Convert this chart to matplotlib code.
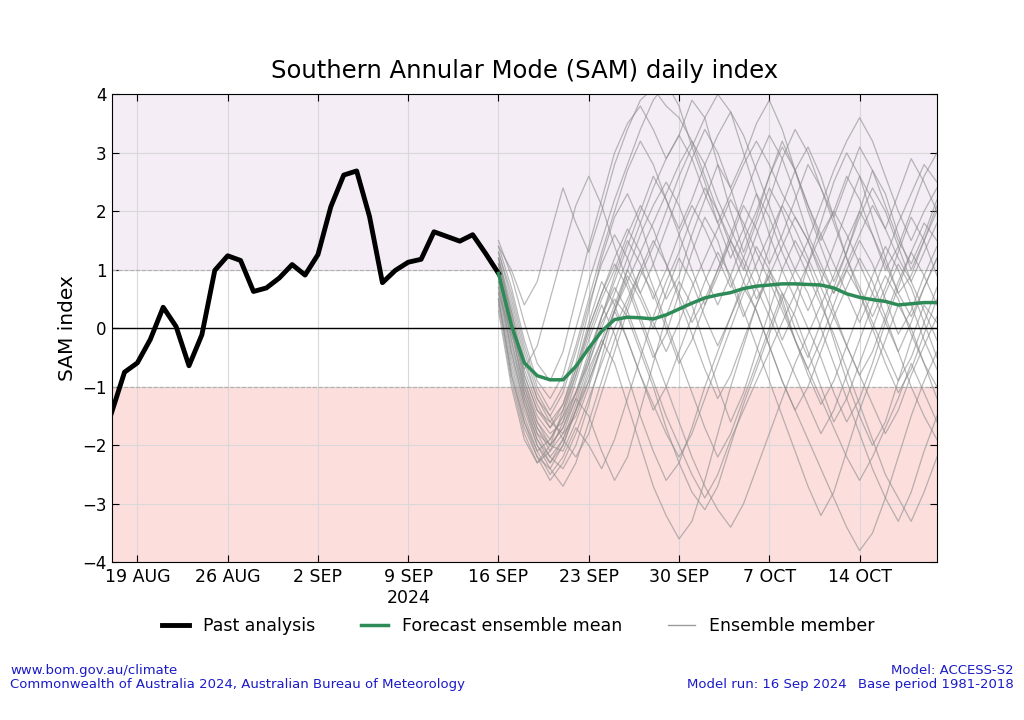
import matplotlib as mpl
mpl.use('Agg')
import matplotlib.pyplot as plt
from matplotlib.lines import Line2D
import pandas as pd
import numpy as np

################## DATA ##################
past_dates = pd.date_range('2024-08-17', '2024-09-16', freq='D')
past_sam = [-1.44, -0.75, -0.59, -0.19, 0.36, 0.03, -0.64, -0.11, 0.99, 1.24,
            1.16, 0.63, 0.69, 0.86, 1.09, 0.91, 1.26, 2.08, 2.62, 2.69,
            1.91, 0.78, 0.99, 1.13, 1.18, 1.65, 1.57, 1.49, 1.60, 1.28, 0.94]

fcst_dates = pd.date_range('2024-09-16', '2024-10-20', freq='D')
ens_mean = [0.94, 0.05, -0.59, -0.81, -0.88, -0.88, -0.65, -0.34, -0.05, 0.15,
            0.19, 0.18, 0.16, 0.23, 0.33, 0.43, 0.52, 0.57, 0.61, 0.68,
            0.72, 0.74, 0.76, 0.76, 0.75, 0.74, 0.69, 0.59, 0.53, 0.49,
            0.46, 0.40, 0.42, 0.44, 0.44]

#ensemble members (rough reading of a subset of the spaghetti)
members = [
    [1.2, 0.2, -0.8, -1.4, -1.6, -1.3, -0.6, 0.3, 1.2, 1.9, 2.3, 1.8, 1.1, 0.5, 0.9, 1.6, 2.2, 2.8, 2.4, 1.7, 1.0, 0.4, -0.2, 0.3, 1.1, 1.8, 2.5, 3.0, 2.6, 1.9, 1.2, 0.6, 0.9, 1.5, 2.0],
    [0.8, -0.3, -1.2, -1.8, -2.0, -1.7, -1.2, -1.5, -2.1, -2.6, -2.2, -1.4, -0.6, 0.2, 0.8, 0.4, -0.3, -1.0, -1.6, -1.1, -0.4, 0.3, 1.0, 1.5, 1.1, 0.5, -0.2, -0.9, -1.5, -2.0, -1.6, -0.9, -0.2, 0.4, 0.1],
    [1.5, 0.9, 0.1, -0.6, -0.9, -0.4, 0.5, 1.4, 2.2, 3.0, 3.5, 3.8, 3.4, 2.9, 3.3, 3.9, 3.6, 2.8, 2.0, 1.3, 1.9, 2.6, 3.2, 2.7, 2.0, 1.4, 0.8, 1.3, 2.0, 2.7, 2.3, 1.6, 1.0, 1.5, 2.1],
    [0.5, -0.8, -1.7, -2.2, -2.4, -2.0, -1.4, -0.7, -0.2, -0.6, -1.3, -2.0, -2.7, -3.2, -3.6, -3.3, -2.6, -1.8, -1.0, -0.3, 0.4, 0.9, 0.5, -0.2, -0.8, -1.3, -0.9, -0.3, 0.3, 0.9, 1.4, 1.0, 0.4, -0.2, -0.7],
    [1.0, 0.0, -1.0, -1.6, -1.9, -1.5, -0.8, 0.0, 0.6, 1.1, 0.7, 0.1, -0.5, -0.1, 0.6, 1.3, 1.9, 1.5, 0.8, 0.2, 0.7, 1.4, 2.1, 2.7, 3.1, 2.6, 1.9, 1.2, 0.6, 0.0, -0.6, -1.1, -0.7, -0.1, 0.5],
    [1.3, 0.5, -0.4, -1.1, -1.5, -1.9, -2.2, -1.8, -1.1, -0.4, 0.3, 0.9, 1.4, 2.0, 2.6, 3.1, 3.6, 4.0, 3.7, 3.0, 2.3, 1.6, 1.0, 0.5, 0.0, -0.5, -1.1, -1.6, -1.2, -0.6, 0.1, 0.7, 1.3, 1.8, 1.5],
    [0.7, -0.5, -1.4, -2.0, -2.3, -1.9, -1.3, -0.6, 0.1, 0.5, 0.2, -0.4, -1.0, -1.7, -2.3, -2.8, -3.1, -2.7, -2.0, -1.3, -0.7, -0.1, 0.5, 1.0, 0.6, 0.0, -0.6, -1.2, -1.8, -2.4, -2.9, -3.3, -2.8, -2.1, -1.5],
    [1.1, 0.3, -0.7, -1.3, -1.7, -1.4, -0.8, -0.1, 0.5, 1.0, 1.6, 2.1, 1.7, 1.1, 0.6, 0.1, 0.5, 1.0, 1.6, 2.2, 2.8, 3.3, 2.9, 2.3, 1.6, 1.1, 0.6, 1.0, 1.5, 1.1, 0.5, -0.1, 0.3, 0.9, 1.4],
    [0.4, -0.9, -1.8, -2.3, -2.1, -1.6, -0.9, -0.2, 0.4, -0.1, -0.8, -1.5, -2.1, -2.6, -2.3, -1.7, -1.0, -0.4, 0.2, 0.7, 0.3, -0.3, -0.9, -1.4, -1.9, -2.4, -2.9, -3.4, -3.8, -3.5, -2.9, -2.2, -1.5, -0.9, -0.4],
    [1.4, 0.7, -0.2, -0.9, -1.2, -0.8, 0.0, 0.8, 1.5, 2.2, 2.8, 3.4, 3.9, 4.2, 3.8, 3.1, 2.5, 1.8, 1.2, 1.7, 2.3, 1.9, 1.3, 0.8, 0.3, 0.8, 1.4, 2.0, 2.6, 2.2, 1.7, 2.3, 2.9, 2.5, 2.0],
    [0.9, -0.2, -1.1, -1.7, -2.0, -2.1, -1.6, -1.0, -0.3, 0.3, 0.9, 0.5, 0.0, 0.6, 1.2, 0.8, 0.2, -0.3, 0.2, 0.8, 1.4, 1.0, 0.4, -0.2, -0.7, -0.2, 0.4, 1.0, 0.6, 0.1, -0.4, -0.9, -0.5, 0.1, 0.7],
    [0.6, -0.6, -1.5, -2.1, -2.5, -2.2, -1.7, -2.0, -2.4, -1.9, -1.2, -0.5, 0.2, 0.8, 1.3, 1.9, 2.4, 2.0, 1.4, 0.8, 0.3, -0.3, -0.9, -1.4, -1.0, -0.4, 0.2, 0.7, 1.2, 0.8, 0.2, -0.4, -1.0, -1.5, -1.9],
    [1.2, 0.4, -0.5, -1.2, -1.5, -1.1, -0.4, 0.4, 1.1, 1.6, 1.2, 0.6, 1.1, 1.7, 2.3, 2.9, 3.4, 3.0, 2.4, 2.9, 3.5, 3.9, 3.4, 2.7, 2.1, 1.5, 2.0, 2.6, 2.2, 1.6, 1.0, 1.4, 2.0, 2.6, 3.0],
    [0.3, -1.0, -1.9, -2.3, -2.0, -1.4, -0.7, 0.0, 0.6, 1.2, 1.7, 1.3, 0.7, 0.1, -0.5, -1.1, -1.7, -2.2, -1.8, -1.2, -0.6, 0.0, 0.6, 0.2, -0.4, -1.0, -1.6, -1.2, -0.6, 0.0, 0.6, 1.1, 0.7, 0.1, -0.5],
    [1.0, 0.1, -0.9, -1.5, -1.8, -1.6, -1.1, -0.5, 0.2, 0.8, 1.4, 2.0, 2.6, 2.2, 1.6, 1.0, 0.4, 0.9, 1.5, 2.1, 1.7, 1.1, 1.6, 2.2, 2.8, 2.4, 1.8, 1.2, 0.7, 0.2, 0.7, 1.3, 1.9, 1.5, 0.9],
    [0.8, -0.4, -1.3, -1.9, -2.2, -1.9, -1.4, -0.9, -0.3, 0.3, -0.2, -0.8, -1.4, -1.0, -0.4, 0.2, 0.8, 1.3, 0.9, 0.3, -0.3, -0.9, -1.5, -2.1, -2.7, -3.2, -2.8, -2.1, -1.4, -0.8, -0.2, 0.4, 0.0, -0.6, -1.2],
    [1.3, 0.6, -0.3, -1.0, -1.4, -1.0, -0.3, 0.5, 1.3, 2.0, 2.7, 3.2, 2.8, 2.2, 1.7, 2.2, 2.8, 3.3, 3.7, 3.3, 2.7, 2.1, 1.5, 1.0, 1.5, 2.1, 2.7, 3.2, 3.6, 3.2, 2.6, 2.0, 1.5, 2.0, 2.4],
    [0.5, -0.7, -1.6, -2.2, -2.6, -2.3, -1.8, -1.2, -0.6, 0.0, 0.5, 1.0, 0.6, 0.0, -0.6, -0.2, 0.4, 1.0, 1.5, 1.1, 0.5, 0.9, 1.4, 1.9, 1.5, 0.9, 0.3, -0.3, -0.8, -0.4, 0.2, 0.8, 1.3, 0.9, 0.4],
    [1.1, 0.2, -0.8, -1.4, -1.7, -1.3, -0.7, 0.1, 0.8, 0.4, -0.2, -0.8, -1.3, -1.8, -2.2, -1.8, -1.2, -0.6, 0.0, 0.6, 1.1, 1.6, 2.1, 1.7, 1.2, 0.7, 0.2, -0.3, -0.8, -1.3, -1.8, -1.4, -0.8, -0.3, 0.2],
    [0.9, -0.1, -1.0, -1.7, -2.1, -1.8, -1.2, -0.5, 0.2, 0.9, 1.5, 1.1, 0.5, 1.0, 1.6, 2.1, 1.7, 1.2, 0.7, 1.2, 1.8, 2.4, 2.0, 1.4, 0.9, 0.4, 0.9, 1.5, 2.0, 1.6, 1.1, 0.6, 0.2, 0.7, 1.2],
    [1.4, 1.0, 0.4, 0.8, 1.6, 2.4, 1.8, 1.3, 2.0, 2.8, 3.4, 3.9, 4.1, 3.8, 3.6, 3.2, 2.6, 2.0, 1.5, 1.0, 1.6, 2.2, 2.9, 3.4, 3.0, 2.4, 1.9, 2.5, 3.1, 2.7, 2.1, 1.5, 1.1, 1.6, 2.2],
    [0.6, -0.1, -0.7, -0.3, 0.5, 1.3, 2.1, 2.6, 2.1, 1.4, 0.8, 0.2, -0.4, -1.0, -1.6, -2.2, -2.7, -3.1, -3.4, -3.0, -2.4, -1.8, -1.2, -0.6, -0.1, 0.4, -0.1, -0.7, -1.3, -1.9, -2.5, -2.9, -3.3, -2.8, -2.2],
    [1.0, 0.0, -1.1, -1.8, -2.2, -2.4, -2.0, -1.3, -0.5, 0.3, 1.0, 1.6, 2.1, 2.5, 2.1, 1.5, 0.9, 0.4, 0.9, 1.5, 2.0, 2.6, 3.1, 2.7, 2.1, 1.6, 1.1, 0.6, 0.1, 0.6, 1.2, 1.8, 2.3, 2.8, 2.5],
    [0.7, -0.4, -1.3, -2.0, -2.4, -2.7, -2.3, -1.6, -0.9, -0.2, 0.4, 1.0, 1.5, 1.1, 0.5, -0.1, -0.7, -1.2, -0.8, -0.2, 0.4, 1.0, 0.6, 0.0, -0.5, 0.1, 0.7, 1.3, 1.9, 2.4, 2.0, 1.4, 0.8, 0.3, -0.2],
    [1.2, 0.3, -0.6, -1.2, -1.6, -1.8, -1.5, -0.9, -0.3, 0.3, 0.8, 1.3, 1.8, 2.3, 2.8, 3.2, 2.8, 2.2, 1.7, 1.2, 0.7, 0.2, -0.3, -0.8, -1.3, -1.8, -1.4, -0.8, -0.2, 0.4, 0.9, 0.5, -0.1, -0.6, -1.0],
    [0.5, -0.8, -1.6, -2.1, -1.9, -1.5, -1.1, -0.6, 0.0, 0.6, 1.2, 1.8, 2.4, 2.9, 3.3, 2.9, 2.3, 1.8, 2.3, 2.8, 3.2, 2.8, 2.3, 1.9, 1.5, 1.0, 0.6, 1.1, 1.6, 2.1, 1.7, 1.2, 0.8, 1.3, 1.8],
    [1.1, 0.1, -0.9, -1.6, -2.0, -1.7, -1.1, -0.4, 0.2, 0.7, 0.3, -0.3, -0.9, -1.5, -2.0, -2.5, -2.9, -2.5, -1.9, -1.4, -0.9, -0.4, 0.1, 0.6, 1.1, 1.6, 2.0, 1.6, 1.1, 0.6, 0.1, -0.4, 0.1, 0.7, 1.2],
    [0.9, -0.2, -1.2, -1.9, -2.3, -2.0, -1.4, -0.8, -0.2, 0.4, 1.0, 0.6, 0.1, -0.4, 0.1, 0.7, 1.2, 1.7, 2.2, 1.8, 1.3, 0.8, 0.3, -0.2, -0.7, -1.2, -1.7, -2.2, -2.6, -2.2, -1.7, -1.2, -0.6, -1.1, -1.6],
]

tick_dates = pd.date_range('2024-08-19', '2024-10-14', freq='7D')
tick_labels = ['19 AUG', '26 AUG', '2 SEP', '9 SEP\n2024', '16 SEP', '23 SEP', '30 SEP', '7 OCT', '14 OCT']

################## PLOT ##################
fig = plt.figure(figsize=(10.24, 7.2), dpi=100)
ax = fig.add_axes([0.109, 0.219, 0.806, 0.650])

#shaded SAM bands
ax.axhspan(1, 4, color='#f4edf6', zorder=0)
ax.axhspan(-4, -1, color='#fcdedd', zorder=0)
ax.axhline(1, color='#b0b0b0', lw=0.8, ls='--', zorder=1)
ax.axhline(-1, color='#b0b0b0', lw=0.8, ls='--', zorder=1)
ax.axhline(0, color='black', lw=1.0, zorder=4)

ax.grid(True, color='#d8d8d8', lw=0.8, zorder=1)
ax.set_axisbelow(True)

for m in members:
    ax.plot(fcst_dates, m, color='#8c8c8c', lw=0.9, alpha=0.6, zorder=2)
ax.plot(past_dates, past_sam, color='black', lw=3.5, zorder=5)
ax.plot(fcst_dates, ens_mean, color='#2e8b57', lw=2.5, zorder=6)

ax.set_xlim(pd.Timestamp('2024-08-17'), pd.Timestamp('2024-10-20'))
ax.set_ylim(-4, 4)
ax.set_xticks(tick_dates)
ax.set_xticklabels(tick_labels, fontsize=12.5)
ax.set_yticks(range(-4, 5))
ax.tick_params(axis='y', labelsize=12)
ax.tick_params(direction='in', top=True, right=True, length=5)
ax.tick_params(axis='x', pad=4)
ax.set_ylabel('SAM index', fontsize=14.5)
ax.set_title('Southern Annular Mode (SAM) daily index', fontsize=17.5, pad=12)

handles = [Line2D([], [], color='black', lw=3.5),
           Line2D([], [], color='#2e8b57', lw=2.5),
           Line2D([], [], color='#9a9a9a', lw=1.0)]
fig.legend(handles, ['Past analysis', 'Forecast ensemble mean', 'Ensemble member'],
           loc='center', bbox_to_anchor=(0.506, 0.13), ncol=3, frameon=False,
           fontsize=12.5, handlelength=1.6, columnspacing=2.6)

#footer
blue = '#1a1ac8'
fig.text(0.01, 0.064, 'www.bom.gov.au/climate', color=blue, fontsize=9.5)
fig.text(0.01, 0.045, 'Commonwealth of Australia 2024, Australian Bureau of Meteorology', color=blue, fontsize=9.5)
fig.text(0.99, 0.064, 'Model: ACCESS-S2', color=blue, fontsize=9.5, ha='right')
fig.text(0.99, 0.045, 'Base period 1981-2018', color=blue, fontsize=9.5, ha='right')
fig.text(0.827, 0.045, 'Model run: 16 Sep 2024', color=blue, fontsize=9.5, ha='right')

fig.savefig('out.png', dpi=100)
